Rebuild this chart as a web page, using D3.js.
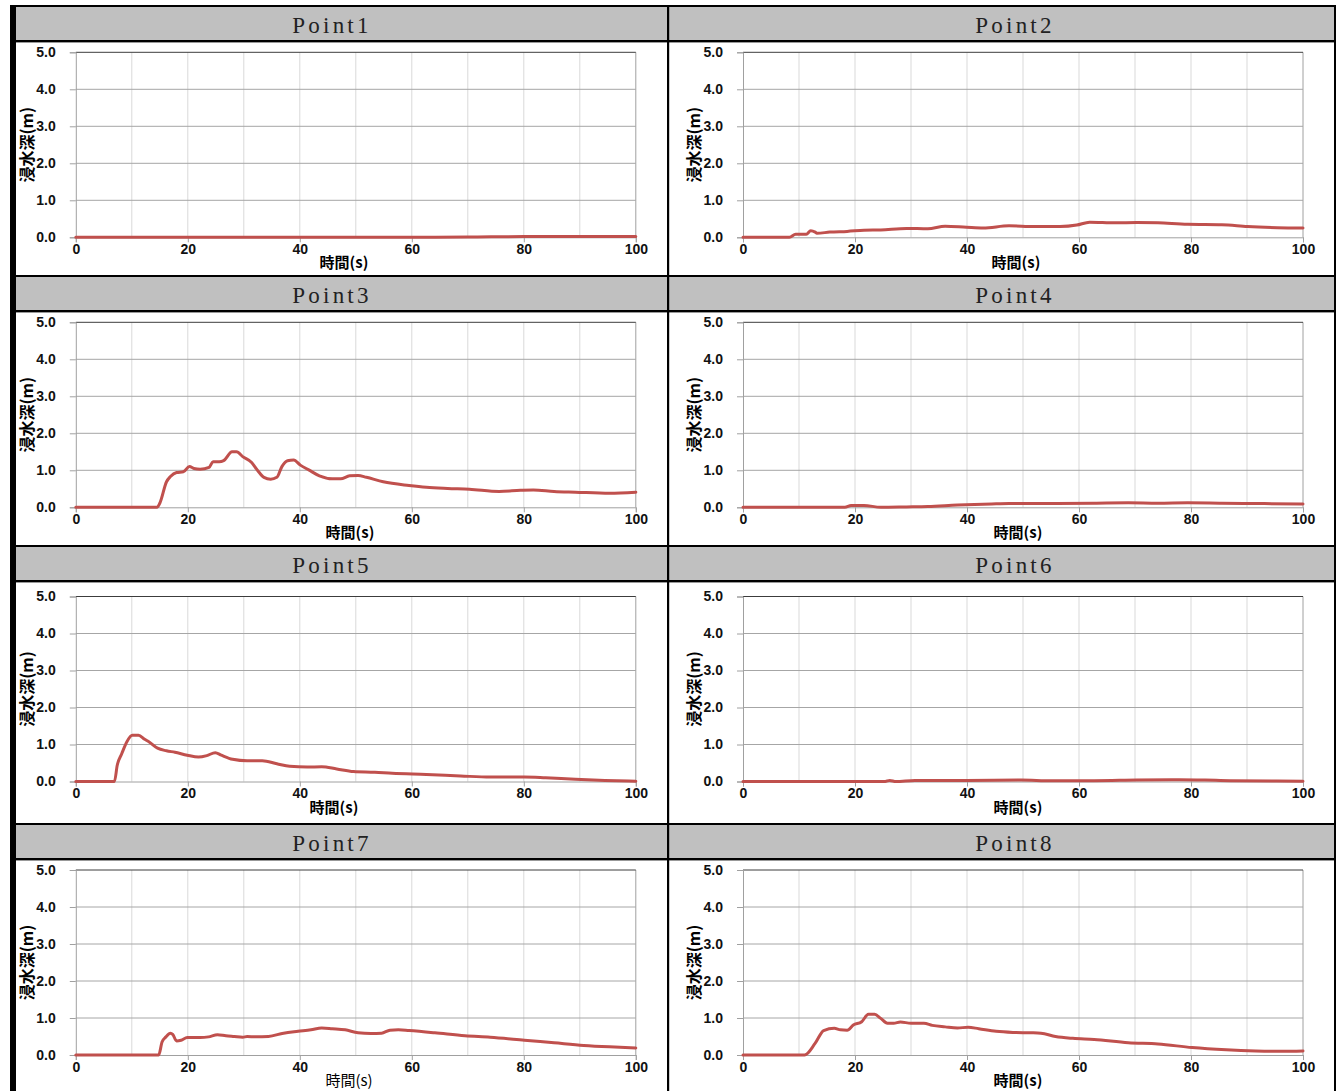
<!DOCTYPE html>
<html>
<head>
<meta charset="utf-8">
<script src="https://cdn.jsdelivr.net/npm/d3@7"></script>
<style>
  html, body { margin: 0; padding: 0; background: #fff; }
  svg { display: block; }
</style>
</head>
<body>
<svg id="chart" width="1336" height="1091"></svg>
<script>
// ---------------- DATA ----------------
const pointNames = ["Point1", "Point2", "Point3", "Point4", "Point5", "Point6", "Point7", "Point8"];
const xTicks = [0, 20, 40, 60, 80, 100];
const yTicks = [0, 1, 2, 3, 4, 5];
const yAxisTitle = "浸水深(m)";
const xAxisTitle = "時間(s)";

// [time (s), depth (m)]
const point1 = [[0,0],[20,0],[40,0],[60,0],[70,0.005],[80,0.02],[90,0.02],[100,0.02]];
const point2 = [[0,0],[8.3,0],[9.4,0.08],[11.3,0.08],[12.1,0.18],[12.9,0.14],[13.2,0.11],[15.5,0.14],[18.6,0.16],[21.6,0.19],[24.6,0.2],[29.2,0.24],[33,0.23],[36.1,0.3],[39.9,0.27],[42.9,0.25],[47.5,0.31],[52,0.29],[56.6,0.29],[59.6,0.33],[61.9,0.41],[66.5,0.39],[70.3,0.4],[74.1,0.39],[79.4,0.35],[85.5,0.34],[90.1,0.29],[95.4,0.26],[100,0.25]];
const point3 = [[0,0],[14.5,0],[15,0.11],[16.2,0.69],[16.9,0.83],[18,0.94],[19.2,0.96],[20.3,1.1],[21.1,1.05],[22.2,1.03],[23.8,1.08],[24.5,1.23],[25.6,1.23],[26.4,1.26],[27.9,1.5],[28.7,1.5],[29.8,1.37],[31.4,1.21],[32.5,0.99],[33.6,0.81],[34.8,0.76],[35.9,0.81],[36.8,1.1],[37.8,1.26],[38.9,1.28],[40.1,1.14],[41.6,1.01],[43.5,0.85],[45.8,0.77],[47.3,0.77],[48.9,0.85],[50.4,0.86],[51.9,0.81],[54.9,0.69],[59.5,0.59],[62.6,0.54],[66.4,0.51],[70.3,0.49],[75.6,0.43],[79.4,0.46],[81.7,0.47],[85.4,0.43],[89.2,0.41],[95.3,0.38],[100,0.41]];
const point4 = [[0,0],[18.2,0],[19.3,0.05],[21.6,0.05],[24.6,0],[29.2,0.01],[33,0.02],[38.3,0.06],[44.4,0.09],[47.5,0.1],[55.1,0.1],[62.7,0.11],[68.8,0.12],[74.1,0.11],[79.4,0.12],[85.5,0.11],[93.1,0.1],[100,0.09]];
const point5 = [[0,0],[6.9,0],[7.4,0.44],[8.2,0.75],[9.1,1.07],[10.1,1.25],[11.2,1.25],[12.3,1.14],[13.1,1.07],[14.6,0.9],[16.2,0.83],[17.7,0.79],[19.9,0.71],[21.9,0.66],[23.4,0.7],[24.9,0.78],[26,0.71],[28,0.6],[30.6,0.56],[33.3,0.56],[35.9,0.48],[38.2,0.41],[41.3,0.39],[43.9,0.4],[46.6,0.34],[49.6,0.27],[53.4,0.25],[56.5,0.22],[62.6,0.19],[68.7,0.15],[74,0.12],[80.1,0.12],[83.9,0.1],[89.2,0.06],[94.5,0.03],[100,0.01]];
const point6 = [[0,0],[25.4,0],[26.2,0.03],[27.3,0],[30.7,0.03],[39.9,0.03],[49.7,0.04],[55.1,0.02],[62.7,0.02],[70.3,0.04],[77.9,0.05],[82.5,0.04],[87,0.02],[100,0.01]];
const point7 = [[0,0],[14.8,0],[15.4,0.35],[16.1,0.49],[16.9,0.59],[17.3,0.56],[18,0.38],[18.8,0.4],[19.9,0.47],[22.2,0.47],[23.7,0.49],[25.3,0.55],[26.8,0.52],[28.3,0.5],[29.8,0.48],[30.6,0.5],[32.1,0.49],[34.4,0.5],[37.1,0.59],[39.7,0.64],[42,0.68],[43.9,0.73],[45.8,0.71],[48.1,0.68],[50.4,0.6],[52.7,0.58],[54.6,0.59],[56.1,0.67],[57.6,0.68],[59.5,0.66],[64.1,0.6],[69.5,0.52],[74,0.48],[80.1,0.4],[85.4,0.33],[90.7,0.26],[95.3,0.22],[100,0.19]];
const point8 = [[0,0],[11,0],[12.9,0.32],[14.4,0.66],[16.3,0.72],[17.4,0.68],[18.6,0.67],[19.7,0.81],[21.2,0.9],[22.4,1.1],[23.5,1.1],[24.6,0.99],[25.8,0.86],[26.9,0.86],[28.1,0.89],[30,0.86],[32.3,0.86],[33.8,0.8],[36.1,0.76],[38.3,0.73],[40.2,0.75],[42.1,0.71],[45.2,0.64],[48.2,0.61],[51.3,0.6],[53.2,0.59],[55.8,0.5],[58.9,0.45],[62.7,0.42],[68.8,0.33],[74.1,0.3],[80.2,0.2],[86.3,0.14],[91.6,0.11],[96.2,0.1],[100,0.11]];
const seriesList = [point1, point2, point3, point4, point5, point6, point7, point8];

// ---------------- LAYOUT ----------------
const W = 1336, H = 1091;
const rowTop = [5, 275, 545, 823];          // top black border of each row
const plotTop = [52.3, 322.3, 596.5, 870];
const plotH = 185;
const plotW = 560;
const colPlotX = [75.8, 743];
const headerTextX = [332, 1015];
const xTitleX = [344, 1016, 350, 1018, 334, 1018, 349, 1018];
const xTitleBold = [true, true, true, true, true, true, false, true];

const LINE_COLOR = "#c0504d";
const HEADER_FILL = "#c0c0c0";
const LABEL_FONT = "'Liberation Sans', Arial, sans-serif";
const CJK_FONT = "'Noto Sans CJK JP', 'Noto Sans CJK SC', sans-serif";

const svg = d3.select("#chart");
svg.append("rect").attr("width", W).attr("height", H).attr("fill", "#fff");

// headers
rowTop.forEach((t, r) => {
  [[16, 667], [669, 1334]].forEach(([a, b], c) => {
    svg.append("rect").attr("x", a).attr("y", t + 2).attr("width", b - a).attr("height", 33)
      .attr("fill", HEADER_FILL);
    svg.append("text").attr("x", headerTextX[c]).attr("y", t + 28)
      .attr("text-anchor", "middle")
      .attr("font-family", "'Liberation Serif', 'DejaVu Serif', serif")
      .attr("font-size", 23).attr("letter-spacing", 3.2).attr("fill", "#222")
      .text(pointNames[r * 2 + c]);
  });
  svg.append("rect").attr("x", 10).attr("y", t).attr("width", W - 10).attr("height", 2).attr("fill", "#000");
  svg.append("rect").attr("x", 10).attr("y", t + 35).attr("width", W - 10).attr("height", 2.4).attr("fill", "#000");
});

// panels
seriesList.forEach((data, i) => {
  const r = Math.floor(i / 2), c = i % 2;
  const px = colPlotX[c], pt = plotTop[r];
  const x = d3.scaleLinear().domain([0, 100]).range([px, px + plotW]);
  const y = d3.scaleLinear().domain([0, 5]).range([pt + plotH, pt]);
  const g = svg.append("g");

  // vertical gridlines
  g.selectAll(".vg").data(d3.range(10, 100, 10)).join("line")
    .attr("x1", d => x(d)).attr("x2", d => x(d))
    .attr("y1", y(0)).attr("y2", y(5))
    .attr("stroke", "#d9d9d9").attr("stroke-width", 1);
  // right edge
  g.append("line").attr("x1", x(100)).attr("x2", x(100)).attr("y1", y(0)).attr("y2", y(5))
    .attr("stroke", "#a0a0a0").attr("stroke-width", 1);
  // horizontal gridlines
  g.selectAll(".hg").data([1, 2, 3, 4]).join("line")
    .attr("x1", x(0)).attr("x2", x(100))
    .attr("y1", d => y(d)).attr("y2", d => y(d))
    .attr("stroke", "#a6a6a6").attr("stroke-width", 1);
  g.append("line").attr("x1", x(0)).attr("x2", x(100)).attr("y1", y(5)).attr("y2", y(5))
    .attr("stroke", "#3c3c3c").attr("stroke-width", 1);

  // y axis
  const ya = g.append("g").attr("transform", `translate(${px},0)`)
    .call(d3.axisLeft(y).tickValues(yTicks).tickFormat(d3.format(".1f")).tickSize(6).tickPadding(14));
  ya.select(".domain").attr("stroke", "#a0a0a0");
  ya.selectAll(".tick line").attr("stroke", "#a0a0a0");
  ya.selectAll("text").attr("font-family", LABEL_FONT).attr("font-weight", 700)
    .attr("font-size", 14).attr("fill", "#111");

  // x axis
  const xa = g.append("g").attr("transform", `translate(0,${y(0)})`)
    .call(d3.axisBottom(x).tickValues(xTicks).tickSize(5).tickPadding(2));
  xa.select(".domain").attr("stroke", "#a0a0a0");
  xa.selectAll(".tick line").attr("stroke", "#a0a0a0");
  xa.selectAll("text").attr("font-family", LABEL_FONT).attr("font-weight", 700)
    .attr("font-size", 14).attr("fill", "#111");

  // line
  const line = d3.line().x(d => x(d[0])).y(d => y(d[1])).curve(d3.curveMonotoneX);
  g.append("path").datum(data).attr("d", line)
    .attr("fill", "none").attr("stroke", LINE_COLOR).attr("stroke-width", 3)
    .attr("stroke-linejoin", "round").attr("stroke-linecap", "round");

  // y title
  g.append("text")
    .attr("transform", `translate(${px - 50},${pt + plotH / 2}) rotate(-90)`)
    .attr("text-anchor", "middle").attr("dominant-baseline", "central")
    .attr("font-family", CJK_FONT).attr("font-weight", "bold").attr("font-size", 16)
    .attr("fill", "#000").text(yAxisTitle);

  // x title
  g.append("text")
    .attr("x", xTitleX[i]).attr("y", y(0) + 24.5)
    .attr("text-anchor", "middle").attr("dominant-baseline", "central")
    .attr("font-family", CJK_FONT).attr("font-weight", xTitleBold[i] ? "bold" : "normal")
    .attr("font-size", 15).attr("fill", "#000").text(xAxisTitle);
});

// vertical borders
svg.append("rect").attr("x", 10).attr("y", 5).attr("width", 6).attr("height", H - 5).attr("fill", "#000");
svg.append("rect").attr("x", 667).attr("y", 5).attr("width", 2.2).attr("height", H - 5).attr("fill", "#000");
svg.append("rect").attr("x", 1334).attr("y", 5).attr("width", 2).attr("height", H - 5).attr("fill", "#000");
</script>
</body>
</html>
